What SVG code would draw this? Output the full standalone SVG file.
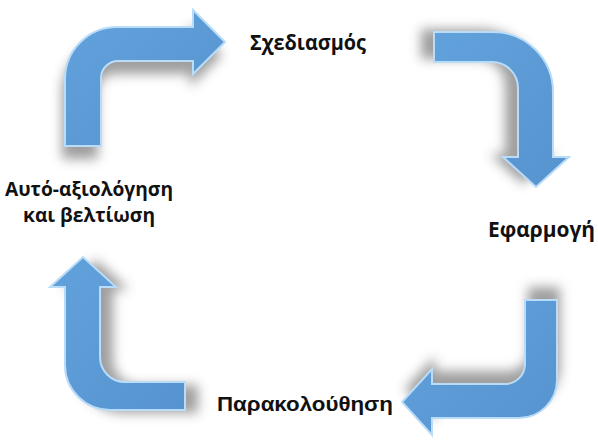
<svg xmlns="http://www.w3.org/2000/svg" width="598" height="448" viewBox="0 0 598 448">
  <style>
    .arrow { fill: url(#blue); stroke: #b9dcf8; stroke-width: 2; stroke-linejoin: miter; }
    .shadow { fill: #5f5f5f; opacity: 0.6; filter: url(#blur); }
    .lbl { font-family: "Open Sans", "Noto Sans", sans-serif; font-weight: bold; font-size: 21px; fill: #111; }
    .lbl3 { font-family: "Open Sans", "Noto Sans", sans-serif; font-weight: bold; font-size: 19px; fill: #111; }
    .lbl2 { font-family: "Liberation Sans", Arial, sans-serif; font-weight: bold; font-size: 20px; fill: #111; }
  </style>
  <defs>
    <linearGradient id="blue" x1="0" y1="0" x2="1" y2="1">
      <stop offset="0" stop-color="#62a2dc"/>
      <stop offset="1" stop-color="#5693cf"/>
    </linearGradient>
    <filter id="blur" x="-30%" y="-30%" width="160%" height="160%">
      <feGaussianBlur stdDeviation="6"/>
    </filter>
  </defs>
  <rect width="598" height="448" fill="#ffffff"/>

  <g id="shadows">
    <path class="shadow" transform="translate(-3,13)" d="M 65 146 L 65 79 A 52 52 0 0 1 117 27 L 193 27 L 193 10 L 225 42 L 193 74 L 193 61 L 118 61 A 17 17 0 0 0 101 78 L 101 146 Z"/>
    <path class="shadow" transform="translate(-13,-3)" d="M 434 32 L 493 32 A 60 60 0 0 1 553 92 L 553 157 L 569 157 L 536 187 L 503 157 L 518 157 L 518 88 A 26 26 0 0 0 492 62 L 434 62 Z"/>
    <path class="shadow" transform="translate(3,-13)" d="M 525 300 L 557 300 L 557 380 A 38 38 0 0 1 519 418 L 432 418 L 432 435 L 402 402 L 432 369 L 432 384 L 505 384 A 20 20 0 0 0 525 364 Z"/>
    <path class="shadow" transform="translate(13,3)" d="M 65 287 L 50 287 L 83 257 L 116 287 L 100 287 L 100 357 A 25 25 0 0 0 125 382 L 185 382 L 185 410 L 110 410 A 45 45 0 0 1 65 365 Z"/>
  </g>

  <g id="arrow-top-left">
    <path class="arrow" d="M 65 146 L 65 79 A 52 52 0 0 1 117 27 L 193 27 L 193 10 L 225 42 L 193 74 L 193 61 L 118 61 A 17 17 0 0 0 101 78 L 101 146 Z"/>
  </g>
  <g id="arrow-top-right">
    <path class="arrow" d="M 434 32 L 493 32 A 60 60 0 0 1 553 92 L 553 157 L 569 157 L 536 187 L 503 157 L 518 157 L 518 88 A 26 26 0 0 0 492 62 L 434 62 Z"/>
  </g>
  <g id="arrow-bottom-right">
    <path class="arrow" d="M 525 300 L 557 300 L 557 380 A 38 38 0 0 1 519 418 L 432 418 L 432 435 L 402 402 L 432 369 L 432 384 L 505 384 A 20 20 0 0 0 525 364 Z"/>
  </g>
  <g id="arrow-bottom-left">
    <path class="arrow" d="M 65 287 L 50 287 L 83 257 L 116 287 L 100 287 L 100 357 A 25 25 0 0 0 125 382 L 185 382 L 185 410 L 110 410 A 45 45 0 0 1 65 365 Z"/>
  </g>

  <g id="node-planning">
    <text class="lbl" x="250" y="50" textLength="116" lengthAdjust="spacingAndGlyphs">Σχεδιασμός</text>
  </g>
  <g id="node-implementation">
    <text class="lbl" x="488" y="237" textLength="107" lengthAdjust="spacingAndGlyphs">Εφαρμογή</text>
  </g>
  <g id="node-monitoring">
    <text class="lbl2" x="217" y="411" textLength="176" lengthAdjust="spacingAndGlyphs">Παρακολούθηση</text>
  </g>
  <g id="node-self-evaluation">
    <text class="lbl3" x="5" y="196" textLength="168" lengthAdjust="spacingAndGlyphs">Αυτό-αξιολόγηση</text>
    <text class="lbl3" x="23" y="222" textLength="132" lengthAdjust="spacingAndGlyphs">και βελτίωση</text>
  </g>
</svg>
